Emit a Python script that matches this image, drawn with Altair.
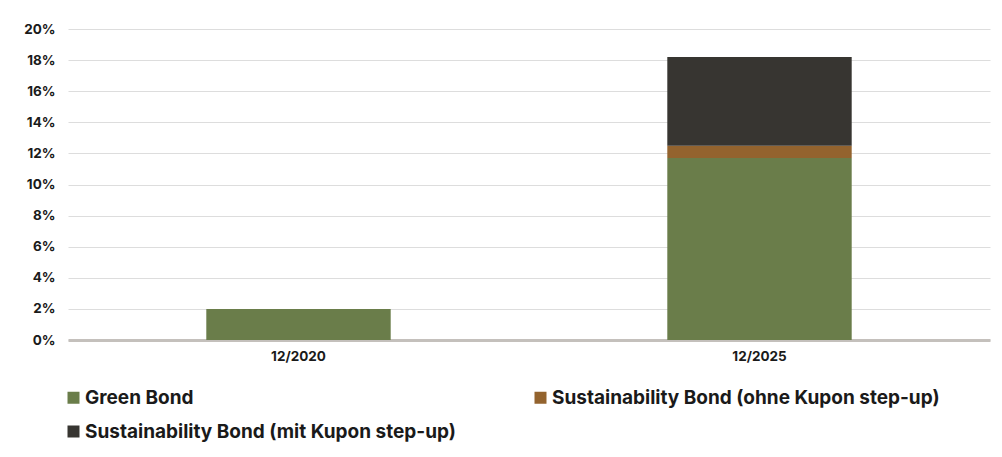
import altair as alt
import pandas as pd

periods = ["12/2020", "12/2025"]
series = ["Green Bond", "Sustainability Bond (ohne Kupon step-up)", "Sustainability Bond (mit Kupon step-up)"]
legend_order = ["Green Bond", "Sustainability Bond (mit Kupon step-up)", "Sustainability Bond (ohne Kupon step-up)"]
green_bond = [2.0, 11.7]
sust_ohne = [0.0, 0.8]
sust_mit = [0.0, 5.7]
legend_colors = ["#6a7d4a", "#373531", "#93632e"]
y_ticks = [0, 2, 4, 6, 8, 10, 12, 14, 16, 18, 20]

rows = []
for i, p in enumerate(periods):
    for k, (s, vals) in enumerate(zip(series, [green_bond, sust_ohne, sust_mit])):
        rows.append({"period": p, "series": s, "value": vals[i], "rank": k})
df = pd.DataFrame(rows)

FONT = "Inter"

chart = alt.Chart(df).mark_bar().encode(
    x=alt.X("period:N", sort=periods, title=None,
            scale=alt.Scale(paddingInner=0.6, paddingOuter=0.3),
            axis=alt.Axis(labelAngle=0, ticks=False, domain=True, domainColor="#c4c0bc",
                          domainWidth=3, labelFont=FONT, labelFontSize=13.5, labelFontWeight="bold",
                          labelColor="#1a1a1a", labelPadding=9)),
    y=alt.Y("value:Q", stack="zero", title=None,
            scale=alt.Scale(domain=[0, 20], nice=False),
            axis=alt.Axis(values=y_ticks, labelExpr="datum.value + '%'", domain=False, ticks=False,
                          gridColor="#dddddd", gridWidth=1, labelFont=FONT, labelFontSize=13.5,
                          labelFontWeight="bold", labelColor="#1a1a1a", labelPadding=13)),
    color=alt.Color("series:N", sort=legend_order,
                    scale=alt.Scale(domain=legend_order, range=legend_colors),
                    legend=alt.Legend(title=None, orient="none", legendX=-4, legendY=359,
                                      columns=2, columnPadding=75, rowPadding=14, padding=0,
                                      symbolType="square", symbolSize=144, symbolStrokeWidth=0,
                                      labelFont=FONT, labelFontSize=19, labelFontWeight="bold",
                                      labelColor="#1a1a1a", labelOffset=2, labelLimit=500)),
    order=alt.Order("rank:Q"),
).properties(
    width=922, height=311,
    autosize=alt.AutoSizeParams(type="none"),
    padding={"left": 60, "top": 21, "right": 4, "bottom": 109},
).configure_view(stroke=None)

chart.save("out.html", embed_options={"renderer": "svg", "actions": False})
